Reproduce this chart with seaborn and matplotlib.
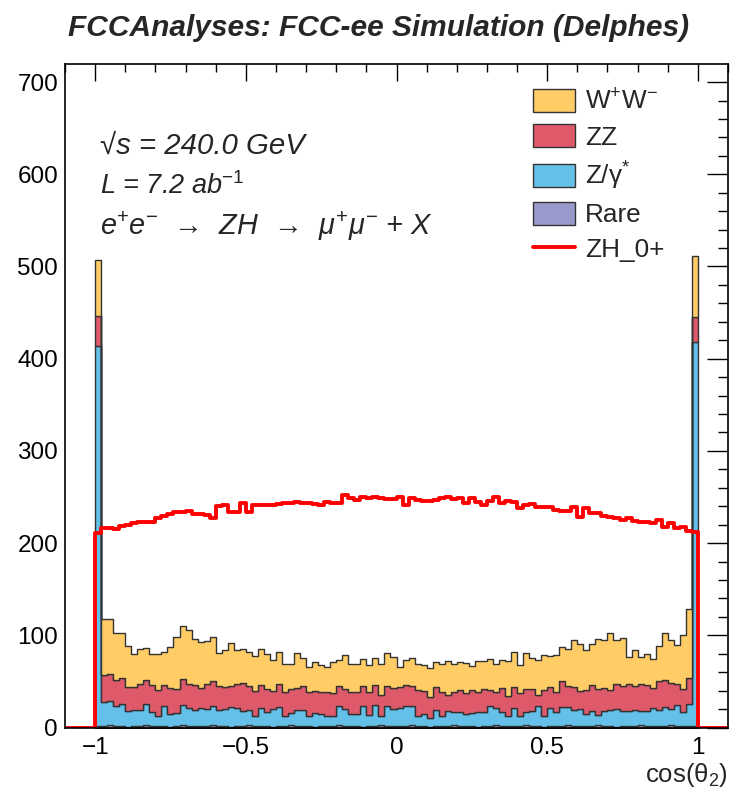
import numpy as np
import pandas as pd
import matplotlib
matplotlib.use("Agg")
import matplotlib.pyplot as plt
import seaborn as sns
from matplotlib.patches import Patch
from matplotlib.lines import Line2D
from matplotlib.ticker import MultipleLocator

# ---------------- data (events per bin, 100 bins on [-1, 1]) ----------------
x_range = (-1.0, 1.0)
n_bins = 100
processes = ["WW", "ZZ", "Zgamma", "Rare"]
legend_labels = ["W$^{+}$W$^{-}$", "ZZ", "Z/γ$^{*}$", "Rare", "ZH_0+"]
colors = ["#FFCC66", "#DE5A6A", "#64C0E8", "#9999CC"]

ww = [61, 61, 60, 51, 49, 44, 36, 38, 35, 34,
      39, 36, 44, 56, 57, 59, 50, 50, 47, 48,
      36, 40, 47, 37, 37, 37, 38, 39, 38, 33,
      35, 31, 27, 38, 30, 27, 31, 29, 28, 34,
      28, 37, 30, 31, 29, 30, 29, 34, 36, 34,
      22, 27, 30, 28, 28, 32, 27, 31, 37, 31,
      30, 33, 26, 34, 30, 33, 31, 30, 38, 38,
      31, 39, 33, 38, 38, 34, 40, 37, 40, 51,
      51, 43, 45, 54, 52, 61, 48, 52, 29, 39,
      30, 34, 31, 38, 50, 47, 43, 58, 74, 66]

zz = [32, 29, 29, 29, 28, 26, 25, 28, 26, 29,
      28, 23, 28, 26, 29, 26, 27, 22, 27, 27,
      26, 24, 23, 26, 30, 26, 27, 25, 25, 20,
      25, 25, 26, 24, 26, 27, 24, 24, 26, 25,
      22, 22, 24, 23, 22, 24, 22, 23, 22, 23,
      23, 23, 22, 28, 25, 23, 25, 25, 17, 21,
      24, 22, 25, 21, 25, 18, 17, 26, 22, 23,
      25, 25, 24, 12, 29, 23, 22, 28, 23, 25,
      20, 26, 28, 28, 25, 22, 27, 27, 29, 26,
      29, 28, 22, 31, 30, 28, 23, 25, 28, 27]

zgamma = [412, 26, 26, 21, 24, 17, 17, 17, 22, 15,
          11, 21, 14, 14, 21, 19, 17, 19, 18, 20,
          17, 18, 21, 19, 16, 16, 11, 19, 15, 19,
          20, 11, 13, 17, 17, 10, 15, 13, 10, 10,
          20, 18, 13, 13, 22, 12, 22, 9, 21, 18,
          19, 21, 20, 11, 13, 9, 17, 11, 16, 14,
          15, 13, 14, 16, 15, 21, 18, 15, 10, 19,
          10, 14, 16, 21, 11, 19, 15, 20, 19, 17,
          18, 13, 16, 11, 16, 17, 19, 16, 16, 17,
          15, 16, 19, 17, 20, 17, 22, 15, 24, 416]

rare = [2, 2, 3, 2, 2, 1, 2, 2, 3, 2,
        2, 2, 1, 2, 3, 2, 2, 2, 2, 3,
        2, 2, 1, 2, 2, 3, 2, 2, 2, 1,
        2, 2, 3, 2, 2, 2, 1, 2, 2, 2,
        3, 2, 2, 2, 1, 2, 2, 3, 2, 2,
        2, 2, 3, 2, 2, 1, 2, 2, 2, 3,
        2, 2, 2, 1, 2, 2, 3, 2, 2, 2,
        2, 3, 2, 2, 1, 2, 2, 2, 3, 2,
        2, 2, 2, 3, 2, 2, 1, 2, 2, 2,
        3, 2, 2, 2, 2, 3, 2, 2, 2, 2]

zh = [210.6, 216, 216, 215, 218, 219.6, 221.4, 223.2, 223, 223,
      227, 229, 232, 234, 234, 235, 232, 232, 230, 227,
      240, 241, 234, 234, 243, 234, 241, 241, 241, 241,
      242, 243, 243, 245, 243, 243, 242, 241, 245, 244,
      244, 252, 248.5, 246.7, 250.3, 248.5, 250.3, 248.5, 247.4, 247.4,
      250.3, 241.3, 248.5, 246.7, 246, 246, 246.7, 248.5, 250.3, 247.4,
      248.5, 243.1, 248.5, 244.9, 241.3, 246, 250.3, 243.1, 246, 244.9,
      237.7, 241.3, 242.4, 239.5, 238.8, 239.5, 235.9, 235.1, 235.1, 239.5,
      227.9, 237.7, 232.2, 232.2, 229.3, 228.7, 226.9, 225.1, 226.9, 224.3,
      223.3, 223.3, 221.5, 225.1, 217.9, 221.5, 216.1, 217.9, 213.5, 212.4]

x_ticks = [-1, -0.5, 0, 0.5, 1]
x_tick_labels = ["\u22121", "\u22120.5", "0", "0.5", "1"]
y_ticks = [0, 100, 200, 300, 400, 500, 600, 700]
y_tick_labels = ["0", "100", "200", "300", "400", "500", "600", "700"]

# ---------------- style ----------------
sns.set_theme(style="white")
plt.rcParams["font.family"] = ["Liberation Sans", "DejaVu Sans"]
plt.rcParams["mathtext.fontset"] = "custom"
plt.rcParams["mathtext.rm"] = "Liberation Sans"
plt.rcParams["mathtext.it"] = "Liberation Sans:italic"
plt.rcParams["mathtext.bf"] = "Liberation Sans:bold"
plt.rcParams["axes.unicode_minus"] = True

W, H = 731, 795
fig = plt.figure(figsize=(W / 100, H / 100), dpi=100)
ax = fig.add_axes([65 / W, (H - 727.5) / H, 663 / W, (727.5 - 64) / H])

edges = np.linspace(x_range[0], x_range[1], n_bins + 1)
centers = 0.5 * (edges[:-1] + edges[1:])

df = pd.DataFrame({
    "x": np.tile(centers, len(processes)),
    "w": np.concatenate([ww, zz, zgamma, rare]).astype(float),
    "proc": np.repeat(processes, n_bins),
})

sns.histplot(data=df, x="x", weights="w", hue="proc", hue_order=processes,
             multiple="stack", element="step", bins=n_bins, binrange=x_range,
             palette=colors, alpha=1.0, edgecolor="#333333", linewidth=1.0,
             legend=False, ax=ax)

# ZH signal line, with empty bins outside [-1, 1]
df_zh = pd.DataFrame({"x": centers, "w": np.asarray(zh, dtype=float)})
sns.histplot(data=df_zh, x="x", weights="w", bins=110, binrange=(-1.1, 1.1),
             element="step", fill=False, color="#FF0000", linewidth=2.8, ax=ax)

ax.set_xlim(-1.1, 1.1)
ax.set_ylim(0, 719.6)
ax.set_xlabel("")
ax.set_ylabel("")

ax.set_xticks(x_ticks)
ax.set_xticklabels(x_tick_labels)
ax.set_yticks(y_ticks)
ax.set_yticklabels(y_tick_labels)
ax.xaxis.set_minor_locator(MultipleLocator(0.1))
ax.yaxis.set_minor_locator(MultipleLocator(20))
ax.tick_params(which="both", direction="in", top=True, right=True,
               labelsize=17.5, colors="black", width=1.0)
ax.tick_params(axis="y", which="major", length=15, pad=5)
ax.tick_params(axis="y", which="minor", length=7.5)
ax.tick_params(axis="x", which="major", length=12, pad=7)
ax.tick_params(axis="x", which="minor", length=6)
for s in ax.spines.values():
    s.set_color("black")
    s.set_linewidth(1.2)

# legend
handles = [Patch(facecolor=c, edgecolor="#333333", linewidth=1.0) for c in colors]
handles.append(Line2D([0], [0], color="#FF0000", linewidth=2.8))
ax.legend(handles, legend_labels, loc="upper left",
          bbox_to_anchor=(533 / W, 1 - 89 / H), bbox_transform=fig.transFigure,
          frameon=False, fontsize=18.8, handlelength=1.6, handleheight=0.97,
          handletextpad=0.38, labelspacing=0.38, borderpad=0, borderaxespad=0)

# texts
fig.text(379 / W, 1 - 28 / H, "FCCAnalyses: FCC-ee Simulation (Delphes)",
         ha="center", va="center", fontsize=21.5, fontweight="bold",
         fontstyle="italic")
fig.text(100 / W, 1 - 154 / H, "√s = 240.0 GeV", fontsize=21.2,
         fontstyle="italic", va="baseline")
fig.text(100 / W, 1 - 194 / H, r"L = 7.2 ab$^{\mathit{-1}}$", fontsize=19.5,
         fontstyle="italic", va="baseline")
fig.text(100 / W, 1 - 235 / H,
         r"e$^{+}$e$^{-}$  →  ZH  →  $\mu^{+}\mu^{-}$ + X",
         fontsize=20.8, fontstyle="italic", va="baseline")
fig.text(728 / W, 1 - 775 / H, "cos(θ$_{2}$)", ha="right", va="center",
         fontsize=18.5)

fig.savefig("out.png", dpi=100)
